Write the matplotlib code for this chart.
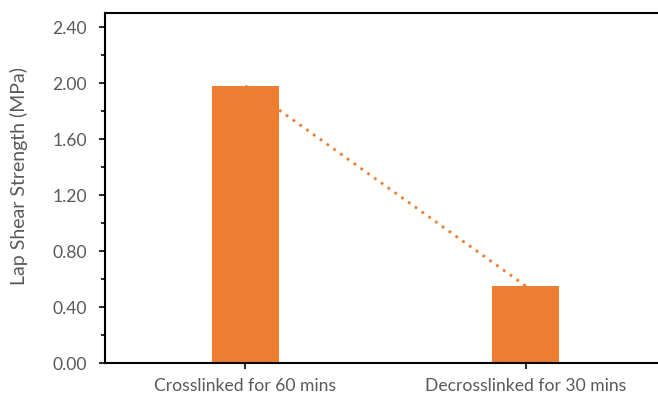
import matplotlib
matplotlib.use("Agg")
import matplotlib.pyplot as plt
from matplotlib.ticker import MultipleLocator

categories = ["Crosslinked for 60 mins", "Decrosslinked for 30 mins"]
strength = [1.98, 0.55]
y_ticks = [0.0, 0.4, 0.8, 1.2, 1.6, 2.0, 2.4]

orange = "#ED7D31"
grey = "#595959"

plt.rcParams["font.family"] = ["Lato", "DejaVu Sans"]

fig = plt.figure(figsize=(6.58, 3.96), dpi=100)
W, H = 658, 396
ax = fig.add_axes([105 / W, 1 - 363 / H, (666 - 105) / W, (363 - 13) / H])

x = [0.5, 1.5]
ax.bar(x, strength, width=0.24, color=orange, zorder=2)
ax.plot(x, strength, linestyle=(0, (1, 2)), color=orange, linewidth=2, zorder=3)

ax.set_xlim(0, 2)
ax.set_ylim(0, 2.5)
ax.set_xticks(x)
ax.set_xticklabels(categories)
ax.set_yticks(y_ticks)
ax.set_yticklabels([f"{v:.2f}" for v in y_ticks])
ax.yaxis.set_minor_locator(MultipleLocator(0.2))

for s in ax.spines.values():
    s.set_color("black")
    s.set_linewidth(1.5)
ax.spines["right"].set_visible(False)

ax.tick_params(axis="y", which="major", direction="out", length=4, width=1.2,
               color="black", labelcolor=grey, labelsize=12.6, pad=9)
ax.tick_params(axis="y", which="minor", direction="out", length=3, width=1.2, color="black")
ax.tick_params(axis="x", direction="out", length=4, width=1.2, color="black",
               labelcolor=grey, labelsize=12.6, pad=7)

ax.set_ylabel("Lap Shear Strength (MPa)", color=grey, fontsize=14)
ax.yaxis.set_label_coords(-0.137, 0.534)

fig.savefig("out.png", dpi=100)
